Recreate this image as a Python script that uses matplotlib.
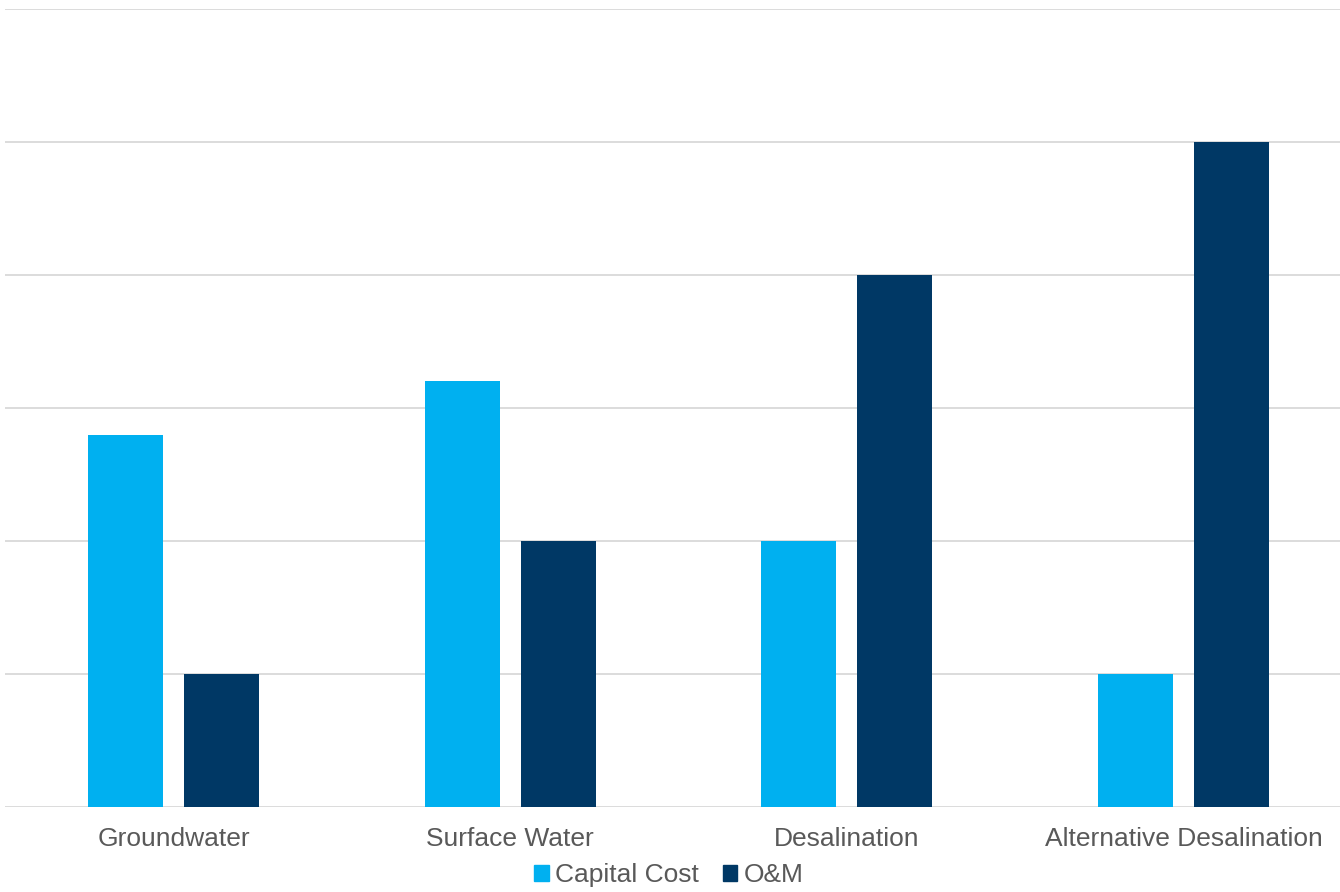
import matplotlib
matplotlib.use("Agg")
import numpy as np
import matplotlib.pyplot as plt
from matplotlib.patches import Patch

plt.rcParams['font.family'] = ['Liberation Sans', 'DejaVu Sans']

categories = ["Groundwater", "Surface Water", "Desalination", "Alternative Desalination"]
capital_cost = [2.8, 3.2, 2.0, 1.0]
om_cost = [1.0, 2.0, 4.0, 5.0]

light_blue = "#00B0F0"
navy = "#003865"
text_grey = "#595959"

# axes spans a little past the right edge, as in the original export
pitch = 336.7
left_px = 5.2
fig = plt.figure(figsize=(13.4, 8.92), dpi=100)
ax = fig.add_axes([left_px / 1340, 1 - 807 / 892, 4 * pitch / 1340, (807 - 9) / 892])

x = np.arange(len(categories))
w = 75 / pitch
off = 48 / pitch
ax.bar(x - off, capital_cost, w, color=light_blue, zorder=3)
ax.bar(x + off, om_cost, w, color=navy, zorder=3)

ax.set_xlim(-0.5, len(categories) - 0.5)
ax.set_ylim(0, 6)
ax.set_yticks(np.arange(0, 7, 1))
ax.yaxis.grid(True, color="#d9d9d9", lw=1.3, zorder=0)
ax.tick_params(left=False, bottom=False, labelleft=False)
ax.set_xticks(x)
ax.set_xticklabels(categories, fontsize=19, color=text_grey)
ax.tick_params(axis="x", pad=11)
for s in ax.spines.values():
    s.set_visible(False)

handles = [Patch(color=light_blue, label="Capital Cost"), Patch(color=navy, label="O&M")]
fig.legend(handles=handles, loc="center", bbox_to_anchor=(669 / 1340, 1 - 875 / 892), ncol=2,
           frameon=False, fontsize=19, labelcolor=text_grey, handlelength=0.55, handleheight=0.55,
           handletextpad=0.25, columnspacing=0.9)

fig.savefig("out.png", dpi=100)
